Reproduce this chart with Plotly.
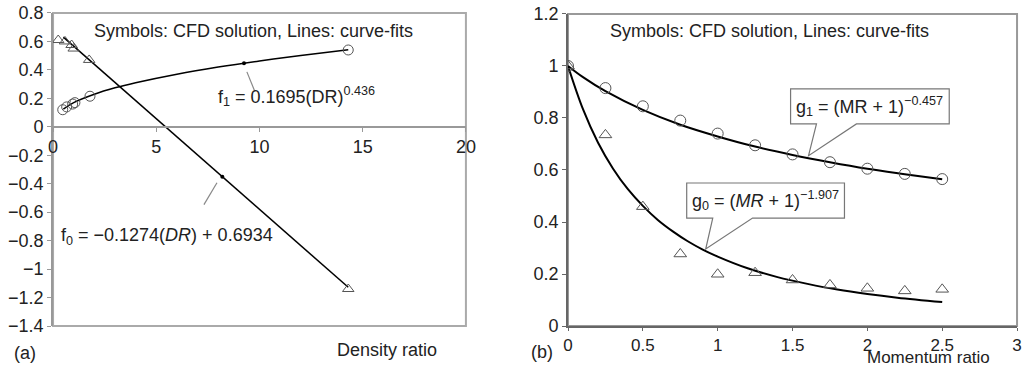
import plotly.graph_objects as go

# ---------------- Panel (a): Density ratio ----------------
dr_circ = [0.47, 0.66, 0.95, 1.06, 1.79, 14.3]
f1_cfd = [0.12, 0.14, 0.16, 0.17, 0.215, 0.54]
dr_tri = [0.25, 0.58, 0.9, 1.0, 1.75, 14.3]
f0_cfd = [0.61, 0.60, 0.575, 0.55, 0.47, -1.14]
dr_fit1 = [0.5, 1, 2, 3, 4, 6, 8, 10, 12, 14.3]
f1_fit = [0.125, 0.170, 0.229, 0.274, 0.310, 0.370, 0.420, 0.463, 0.501, 0.541]
dr_fit0 = [0.5, 14.3]
f0_fit = [0.630, -1.128]
f1_dot_x, f1_dot_y = [9.25], [0.447]
f0_dot_x, f0_dot_y = [8.2], [-0.351]

# ---------------- Panel (b): Momentum ratio ----------------
mr = [0, 0.25, 0.5, 0.75, 1.0, 1.25, 1.5, 1.75, 2.0, 2.25, 2.5]
g1_cfd = [1.0, 0.915, 0.845, 0.79, 0.74, 0.695, 0.66, 0.63, 0.605, 0.585, 0.565]
g0_cfd = [1.0, 0.735, 0.459, 0.277, 0.199, 0.205, 0.177, 0.158, 0.145, 0.135, 0.141]
mr_fit1 = [0, 0.1, 0.25, 0.5, 0.75, 1.0, 1.25, 1.5, 1.75, 2.0, 2.25, 2.5]
g1_fit = [1.0, 0.957, 0.903, 0.831, 0.774, 0.729, 0.690, 0.658, 0.630, 0.605, 0.584, 0.564]
mr_fit0 = [0, 0.1, 0.2, 0.3, 0.4, 0.5, 0.6, 0.7, 0.8, 0.9, 1.0, 1.2, 1.4, 1.6, 1.8, 2.0, 2.2, 2.5]
g0_fit = [1.0, 0.834, 0.706, 0.606, 0.526, 0.462, 0.408, 0.364, 0.326, 0.294, 0.267,
          0.222, 0.188, 0.162, 0.140, 0.123, 0.109, 0.092]

FONT = "Liberation Sans, Arial, sans-serif"
MK = "#555555"
GRID = "#999999"

fig = go.Figure()

# panel (a) traces
fig.add_trace(go.Scatter(x=dr_fit1, y=f1_fit, mode="lines", line=dict(color="black", width=1.5, shape="spline"),
                         xaxis="x", yaxis="y", showlegend=False))
fig.add_trace(go.Scatter(x=dr_fit0, y=f0_fit, mode="lines", line=dict(color="black", width=1.5),
                         xaxis="x", yaxis="y", showlegend=False))
fig.add_trace(go.Scatter(x=dr_circ, y=f1_cfd, mode="markers",
                         marker=dict(symbol="circle-open", size=10, color=MK, line=dict(width=1)),
                         xaxis="x", yaxis="y", showlegend=False))
fig.add_trace(go.Scatter(x=dr_tri, y=f0_cfd, mode="markers",
                         marker=dict(symbol="triangle-up-open", size=10, color=MK, line=dict(width=1)),
                         xaxis="x", yaxis="y", showlegend=False))
fig.add_trace(go.Scatter(x=f1_dot_x + f0_dot_x, y=f1_dot_y + f0_dot_y, mode="markers",
                         marker=dict(symbol="circle", size=4, color="black"),
                         xaxis="x", yaxis="y", showlegend=False))

# panel (b) traces
fig.add_trace(go.Scatter(x=mr_fit1, y=g1_fit, mode="lines", line=dict(color="black", width=2, shape="spline"),
                         xaxis="x2", yaxis="y2", showlegend=False))
fig.add_trace(go.Scatter(x=mr_fit0, y=g0_fit, mode="lines", line=dict(color="black", width=2, shape="spline"),
                         xaxis="x2", yaxis="y2", showlegend=False))
fig.add_trace(go.Scatter(x=mr, y=g1_cfd, mode="markers",
                         marker=dict(symbol="circle-open", size=11, color=MK, line=dict(width=1)),
                         xaxis="x2", yaxis="y2", showlegend=False))
fig.add_trace(go.Scatter(x=mr, y=g0_cfd, mode="markers",
                         marker=dict(symbol="triangle-up-open", size=11, color=MK, line=dict(width=1)),
                         xaxis="x2", yaxis="y2", showlegend=False))

ya_dom = [0.1117, 0.9646]
yb_dom = [0.1117, 0.9619]
x_zero_pos = ya_dom[0] + (1.4 / 2.2) * (ya_dom[1] - ya_dom[0])

tickfont = dict(family=FONT, size=18, color="#222")
common = dict(showline=True, linewidth=2, ticks="outside", ticklen=4, showgrid=False,
              zeroline=False, tickfont=tickfont, automargin=False, fixedrange=True)
fig.update_layout(
    template="none",
    width=1024, height=367,
    margin=dict(l=0, r=0, t=0, b=0, pad=0, autoexpand=False),
    paper_bgcolor="white", plot_bgcolor="white",
    font=dict(family=FONT, size=18, color="#222"),
    xaxis=dict(domain=[0.0518, 0.455], range=[0, 20], dtick=5, anchor="free", position=x_zero_pos,
               linecolor=GRID, tickcolor=GRID, **common),
    yaxis=dict(domain=ya_dom, range=[-1.4, 0.8], dtick=0.2, anchor="x",
               linecolor=GRID, tickcolor=GRID, **common),
    xaxis2=dict(domain=[0.5547, 0.9932], range=[0, 3], dtick=0.5, anchor="y2",
                linecolor="#666", tickcolor="#666",
                **dict(common, ticklen=3, tickfont=dict(family=FONT, size=17, color="#222"))),
    yaxis2=dict(domain=yb_dom, range=[0, 1.2], dtick=0.2, anchor="x2",
                linecolor="#666", tickcolor="#666", **common),
)

shapes = [
    # frames
    dict(type="rect", xref="x domain", yref="y domain", x0=0, x1=1, y0=0, y1=1,
         line=dict(color="#aaaaaa", width=2), layer="below"),
    dict(type="rect", xref="x2 domain", yref="y2 domain", x0=0, x1=1, y0=0, y1=1,
         line=dict(color="#999999", width=2), layer="below"),
    # leader lines panel (a)
    dict(type="line", xref="x", yref="y", x0=9.39, y0=0.386, x1=9.78, y1=0.246,
         line=dict(color="#888", width=1.2)),
    dict(type="line", xref="x", yref="y", x0=7.31, y0=-0.547, x1=7.94, y1=-0.393,
         line=dict(color="#888", width=1.2)),
    # callouts panel (b)
    dict(type="path", xref="x2", yref="y2",
         path="M 1.487,0.912 L 2.547,0.912 L 2.547,0.777 L 1.927,0.777 L 1.607,0.655 L 1.66,0.777 L 1.487,0.777 Z",
         fillcolor="white", line=dict(color="#777", width=1.2), layer="above"),
    dict(type="path", xref="x2", yref="y2",
         path="M 0.793,0.55 L 1.847,0.55 L 1.847,0.415 L 1.233,0.415 L 0.92,0.296 L 0.967,0.415 L 0.793,0.415 Z",
         fillcolor="white", line=dict(color="#777", width=1.2), layer="above"),
]
fig.update_layout(shapes=shapes)

afont = dict(family=FONT, size=18, color="#222")
annos = [
    dict(text="Symbols: CFD solution, Lines: curve-fits", xref="x", yref="y", x=9.69, y=0.674,
         showarrow=False, font=afont),
    dict(text="f<sub>1</sub> = 0.1695(DR)<sup>0.436</sup>", xref="x", yref="y", x=7.9, y=0.21,
         xanchor="left", showarrow=False, font=afont),
    dict(text="f<sub>0</sub> = −0.1274(<i>DR</i>) + 0.6934", xref="x", yref="y", x=0.29, y=-0.772,
         xanchor="left", showarrow=False, font=afont),
    dict(text="Symbols: CFD solution, Lines: curve-fits", xref="x2", yref="y2", x=1.347, y=1.135,
         showarrow=False, font=afont),
    dict(text="g<sub>1</sub> = (MR + 1)<sup>−0.457</sup>", xref="x2", yref="y2", x=2.017, y=0.844,
         showarrow=False, font=afont),
    dict(text="g<sub>0</sub> = (<i>MR</i> + 1)<sup>−1.907</sup>", xref="x2", yref="y2", x=1.32, y=0.483,
         showarrow=False, font=afont),
    dict(text="Density ratio", xref="paper", yref="paper", x=387 / 1024, y=1 - 350 / 367,
         xanchor="center", yanchor="middle", showarrow=False, font=afont),
    dict(text="Momentum ratio", xref="paper", yref="paper", x=928 / 1024, y=1 - 357 / 367,
         xanchor="center", yanchor="middle", showarrow=False, font=dict(afont, size=17)),
    dict(text="(a)", xref="paper", yref="paper", x=25 / 1024, y=1 - 353 / 367,
         xanchor="center", yanchor="middle", showarrow=False, font=afont),
    dict(text="(b)", xref="paper", yref="paper", x=542 / 1024, y=1 - 352 / 367,
         xanchor="center", yanchor="middle", showarrow=False, font=afont),
]
fig.update_layout(annotations=annos)

fig.write_html("out.html", config={"displayModeBar": False},
               post_script="document.body.style.margin='0';document.body.style.overflow='hidden';")
